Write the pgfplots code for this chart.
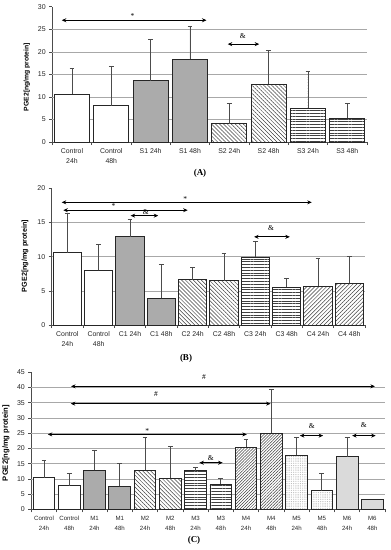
\documentclass[border=0pt]{standalone}
\usepackage{fontspec}
\setmainfont{Liberation Sans}
\newfontfamily\serifA{Liberation Serif}
\usepackage{pgfplots}
\pgfplotsset{compat=1.18}
\usetikzlibrary{patterns.meta,arrows.meta}

\definecolor{barS1}{HTML}{ABABAB}
\definecolor{barM6}{HTML}{DADADA}
\definecolor{gridc}{HTML}{A8A8A8}

\pgfplotsset{
 panel/.style={scale only axis, clip=false, axis x line*=bottom, axis y line*=left,
   axis line style={black!70, line width=0.6pt}, tick align=outside, major tick length=3pt,
   ytick style={black!70, line width=0.6pt}, xtick style={black!70, line width=0.6pt},
   ymin=0, xmin=-0.5, /pgf/number format/assume math mode=true,
   yticklabel style={font=\fontsize{7}{8}\selectfont, text=black!85},
   xticklabels={}, 
   xticklabel style={align=center, text=black!85},
   extra y tick style={grid=major, major grid style={gridc, line width=0.6pt}, tick style={draw=none}},
   extra y tick labels={},
   extra x tick style={tick style={draw=none}}},
 bstyle/.style={ybar, bar width=#1, bar shift=0pt, draw=black!85, line width=0.9pt,
   error bars/.cd, y dir=plus, y explicit,
   error bar style={line width=0.8pt, draw=black!70},
   error mark options={rotate=90, mark size=2.4pt, line width=0.8pt, draw=black!70}},
 arr/.style={black, line width=1pt, arrows={Stealth[length=4.5pt,width=4pt]-Stealth[length=4.5pt,width=4pt]}},
 hatchB/.style={preaction={fill=white}, pattern={Lines[angle=-45,distance=2.8pt,line width=0.5pt]}, pattern color=black!75},
 hatchF/.style={preaction={fill=white}, pattern={Lines[angle=45,distance=2.8pt,line width=0.5pt]}, pattern color=black!75},
 hatchFd/.style={preaction={fill=white}, pattern={Lines[angle=45,distance=2.1pt,line width=0.5pt]}, pattern color=black!75},
 hatchH/.style={preaction={fill=white}, pattern={Lines[angle=0,distance=2.8pt,line width=0.5pt]}, pattern color=black!75},
 dotsP/.style={preaction={fill=white}, pattern={Dots[distance=1.8pt,radius=0.35pt]}, pattern color=black!45},
}
\newcommand\annf{\serifA\fontsize{7.5}{8}\selectfont}

\begin{document}
\begin{tikzpicture}
\useasboundingbox (0pt,0pt) rectangle (391pt,-550pt);

% ---------------- Panel A ----------------
\begin{axis}[panel, at={(52.3pt,-142pt)}, anchor=south west, width=314.7pt, height=135.3pt,
  xmax=7.5, ymax=30, ytick={0,5,...,30}, extra y ticks={5,10,...,25},
  xtick={-0.5,0.5,...,7.5},
  extra x ticks={0,1,2,3,4,5,6,7},
  extra x tick labels={{Control\\24h},{Control\\48h},{S1 24h},{S1 48h},{S2 24h},{S2 48h},{S3 24h},{S3 48h}},
  xticklabel style={font=\fontsize{6.9}{10}\selectfont}]
\addplot[fill=white, bstyle=0.89] coordinates {(0,10.6) +- (0,5.8) (1,8.0) +- (0,8.7)};
\addplot[fill=barS1, bstyle=0.89] coordinates {(2,13.6) +- (0,9.1) (3,18.3) +- (0,7.4)};
\addplot[hatchB, bstyle=0.89] coordinates {(4,4.1) +- (0,4.5) (5,12.8) +- (0,7.6)};
\addplot[hatchH, bstyle=0.89] coordinates {(6,7.5) +- (0,8.2) (7,5.3) +- (0,3.2)};
\addplot[arr] coordinates {(-0.26,27) (3.42,27)};
\addplot[arr] coordinates {(3.96,21.7) (4.76,21.7)};
\node[font=\annf] at (axis cs:1.54,28.0) {*};
\node[font=\annf] at (axis cs:4.34,23.6) {\&};
\end{axis}

% ---------------- Panel B ----------------
\begin{axis}[panel, at={(51.7pt,-325pt)}, anchor=south west, width=313.3pt, height=136.7pt,
  xmax=9.5, ymax=20, ytick={0,5,...,20}, extra y ticks={5,10,15},
  xtick={-0.5,0.5,...,9.5},
  extra x ticks={0,1,2,3,4,5,6,7,8,9},
  extra x tick labels={{Control\\24h},{Control\\48h},{C1 24h},{C1 48h},{C2 24h},{C2 48h},{C3 24h},{C3 48h},{C4 24h},{C4 48h}},
  xticklabel style={font=\fontsize{6.9}{10}\selectfont}]
\addplot[fill=white, bstyle=0.9] coordinates {(0,10.6) +- (0,5.8) (1,8.0) +- (0,3.85)};
\addplot[fill=barS1, bstyle=0.9] coordinates {(2,12.9) +- (0,2.5) (3,3.9) +- (0,4.9)};
\addplot[hatchB, bstyle=0.9] coordinates {(4,6.6) +- (0,1.9) (5,6.5) +- (0,4.0)};
\addplot[hatchH, bstyle=0.9] coordinates {(6,9.95) +- (0,2.25) (7,5.55) +- (0,1.25)};
\addplot[hatchF, bstyle=0.9] coordinates {(8,5.7) +- (0,4.05) (9,6.1) +- (0,4.0)};
\addplot[arr] coordinates {(-0.18,17.95) (7.8,17.95)};
\addplot[arr] coordinates {(-0.13,16.8) (3.84,16.8)};
\addplot[arr] coordinates {(2.02,16.0) (2.9,16.0)};
\addplot[arr] coordinates {(5.96,12.9) (7.1,12.9)};
\node[font=\annf] at (axis cs:3.76,18.5) {*};
\node[font=\annf] at (axis cs:1.47,17.35) {*};
\node[font=\annf] at (axis cs:2.5,16.5) {\&};
\node[font=\annf] at (axis cs:6.5,14.2) {\&};
\end{axis}

% ---------------- Panel C ----------------
\begin{axis}[panel, at={(31.4pt,-509.3pt)}, anchor=south west, width=353.6pt, height=137pt,
  xmax=13.5, ymax=45, ytick={0,5,...,45}, extra y ticks={5,10,...,40},
  xtick={-0.5,0.5,...,13.5},
  extra x ticks={0,1,2,3,4,5,6,7,8,9,10,11,12,13},
  extra x tick labels={{Control\\24h},{Control\\48h},{M1\\24h},{M1\\48h},{M2\\24h},{M2\\48h},{M3\\24h},{M3\\48h},{M4\\24h},{M4\\48h},{M5\\24h},{M5\\48h},{M6\\24h},{M6\\48h}},
  xticklabel style={font=\fontsize{6.1}{10}\selectfont}]
\addplot[fill=white, bstyle=0.86] coordinates {(0,10.4) +- (0,5.8) (1,7.8) +- (0,3.9)};
\addplot[fill=barS1, bstyle=0.86] coordinates {(2,12.8) +- (0,6.6) (3,7.5) +- (0,7.5)};
\addplot[hatchB, bstyle=0.86] coordinates {(4,12.8) +- (0,10.9) (5,10.2) +- (0,10.6)};
\addplot[hatchH, bstyle=0.86] coordinates {(6,12.6) +- (0,1.1) (7,8.2) +- (0,2.0)};
\addplot[hatchFd, bstyle=0.86] coordinates {(8,20.4) +- (0,2.5) (9,25.0) +- (0,14.5)};
\addplot[dotsP, bstyle=0.86] coordinates {(10,17.7) +- (0,5.8) (11,6.1) +- (0,5.7)};
\addplot[fill=barM6, bstyle=0.86] coordinates {(12,17.3) +- (0,6.2)};
\addplot[fill=barM6, ybar, bar width=0.86, bar shift=0pt, draw=black!85, line width=0.9pt] coordinates {(13,3.3)};
\addplot[arr] coordinates {(1.07,40.4) (13.1,40.4)};
\addplot[arr] coordinates {(1.06,34.7) (8.97,34.7)};
\addplot[arr] coordinates {(0.15,24.6) (8.03,24.6)};
\addplot[arr] coordinates {(6.15,15.3) (7.07,15.3)};
\addplot[arr] coordinates {(10.13,24.2) (11.05,24.2)};
\addplot[arr] coordinates {(12.2,24.2) (13.13,24.2)};
\node[font=\annf] at (axis cs:6.33,43.4) {\#};
\node[font=\annf] at (axis cs:4.43,37.8) {\#};
\node[font=\annf] at (axis cs:4.09,25.8) {*};
\node[font=\annf] at (axis cs:6.6,16.9) {\&};
\node[font=\annf] at (axis cs:10.6,27.4) {\&};
\node[font=\annf] at (axis cs:12.66,27.7) {\&};
\end{axis}

% labels and captions
\node[rotate=90, font=\bfseries\fontsize{6.8}{7}\selectfont] at (27pt,-77pt) {PGE2[ng/mg protein]};
\node[rotate=90, font=\bfseries\fontsize{7.2}{7}\selectfont] at (25pt,-256pt) {PGE2[ng/mg protein]};
\node[rotate=90, font=\bfseries\fontsize{7.6}{7}\selectfont] at (6pt,-443pt) {PGE2[ng/mg protein]};
\node[font=\serifA\bfseries\fontsize{9}{9}\selectfont] at (200pt,-173pt) {(A)};
\node[font=\serifA\bfseries\fontsize{9}{9}\selectfont] at (186pt,-358pt) {(B)};
\node[font=\serifA\bfseries\fontsize{9}{9}\selectfont] at (194pt,-540pt) {(C)};
\end{tikzpicture}
\end{document}
